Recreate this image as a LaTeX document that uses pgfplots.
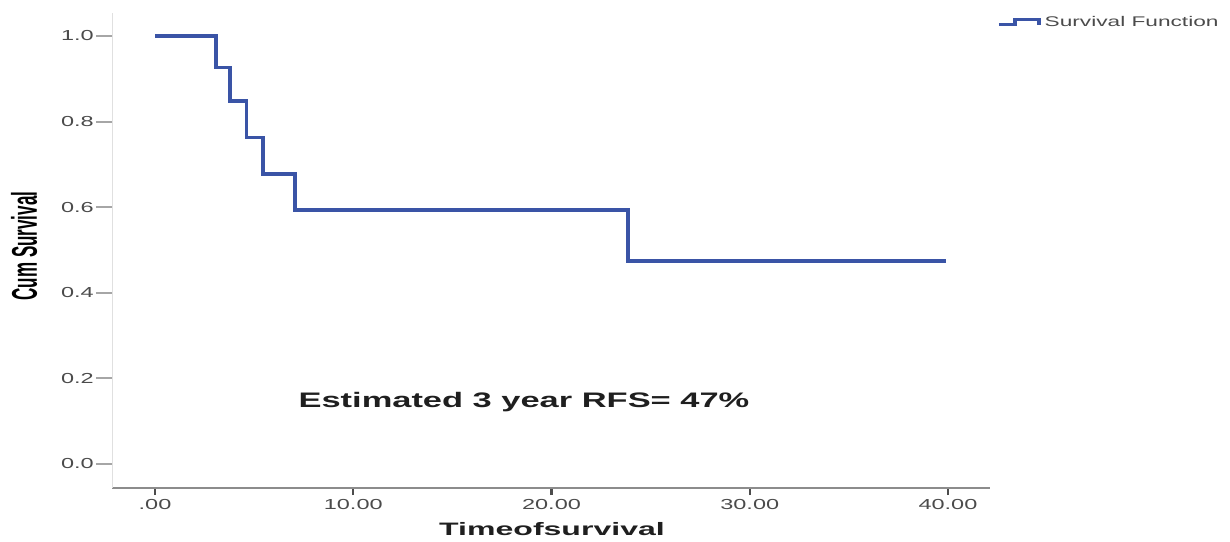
\documentclass[border=0pt]{standalone}
\usepackage{graphicx}
\usepackage{fontspec}
\setmainfont{Liberation Sans}
\usepackage{pgfplots}
\pgfplotsset{compat=1.18}
\definecolor{kmblue}{RGB}{58,84,166}
\definecolor{ticklab}{RGB}{75,75,75}
\newcommand\sx[1]{\scalebox{1.62}[1]{#1}}
\pgfplotsset{common/.style={
  at={(112pt,53pt)}, anchor=south west,
  width=878pt, height=475pt, scale only axis,
  xmin=-2.17, xmax=42.12, ymin=-0.0561, ymax=1.0537,
  ticklabel style={font=\fontsize{14.5}{16}\selectfont, text=ticklab},
  clip=false,
}}
\begin{document}
\begin{tikzpicture}[x=1pt,y=1pt]
\path[use as bounding box] (0,0) rectangle (1230,541);
% x axis: short ticks
\begin{axis}[common,
  axis x line=bottom, axis y line=none,
  axis line style={-},
  tick align=outside,
  x axis line style={draw=black!45, line width=2.5pt},
  xtick={0,10,20,30,40},
  xticklabels={\sx{.00},\sx{10.00},\sx{20.00},\sx{30.00},\sx{40.00}},
  ytick=\empty,
  major tick length=7pt,
  xtick style={draw=black!70, line width=2.2pt},
  xticklabel style={anchor=north, inner sep=0pt, yshift=-4pt},
]
\end{axis}
% y axis, curve and legend
\begin{axis}[common,
  axis x line=none, axis y line=left,
  axis line style={-},
  tick align=outside,
  y axis line style={draw=black!12, line width=1pt},
  xtick=\empty,
  ytick={0,0.2,0.4,0.6,0.8,1.0},
  yticklabels={\sx{0.0},\sx{0.2},\sx{0.4},\sx{0.6},\sx{0.8},\sx{1.0}},
  major tick length=16pt,
  ytick style={draw=black!35, line width=2pt},
  yticklabel style={anchor=east, inner sep=0pt, xshift=-2pt},
  legend style={at={(1.008,0.981)}, anchor=west, draw=none, fill=none,
    inner sep=0pt, outer sep=0pt,
    nodes={inner sep=0pt, anchor=west, text=ticklab, font=\fontsize{14}{16}\selectfont}},
  legend cell align=left,
  legend image code/.code={\draw[#1] (0pt,-2.5pt) -- (16pt,-2.5pt) -- (16pt,2.5pt) -- (40pt,2.5pt) -- (40pt,-2.5pt);},
]
\addplot[const plot, color=kmblue, line width=3.6pt] coordinates {
  (0,1.0) (3.08,0.926) (3.78,0.848) (4.62,0.763) (5.46,0.677) (7.06,0.593) (23.86,0.474) (39.9,0.474)
};
\addlegendentry{\hspace{4pt}\sx{Survival Function}}
\end{axis}
\node[font=\fontsize{21}{24}\selectfont\bfseries, text=black!88] at (524,138.5) {\scalebox{1.64}[1]{Estimated 3 year RFS= 47\%}};
\node[font=\fontsize{18}{20}\selectfont\bfseries, text=black!88] at (552,11.5) {\scalebox{1.78}[1]{Timeofsurvival}};
\node[font=\fontsize{17}{20}\selectfont\bfseries, rotate=90] at (24,295) {\scalebox{1}[2.1]{Cum Survival}};
\end{tikzpicture}
\end{document}
